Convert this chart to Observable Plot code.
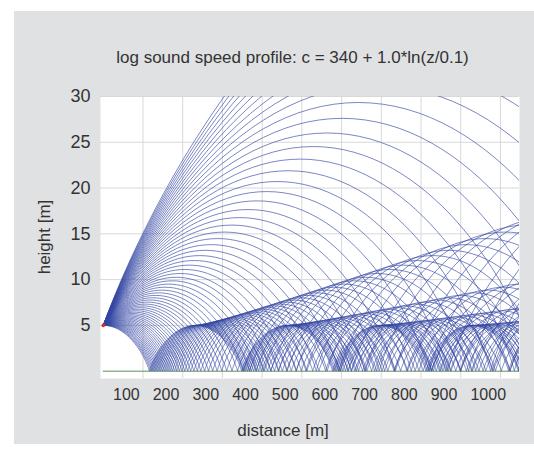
<!DOCTYPE html>
<html><head><meta charset="utf-8">
<script src="https://cdn.jsdelivr.net/npm/d3@7"></script>
<script src="https://cdn.jsdelivr.net/npm/@observablehq/plot@0.6"></script>
<style>
body{margin:0;background:#fff;font-family:"Liberation Sans",Arial,Helvetica,sans-serif;}
#wrap{position:relative;width:534px;height:455px;overflow:hidden}
#panel{position:absolute;left:14px;top:11px;width:520px;height:433px;background:#e0e1e3}
.lbl{position:absolute;color:#333;font-size:17px;white-space:nowrap;line-height:1}
#chart{position:absolute;left:0;top:0}
</style></head><body>
<div id="wrap">
<div id="panel"></div>
<div id="chart"></div>
<div class="lbl" style="left:292.5px;top:57px;transform:translate(-50%,-50%)">log sound speed profile: c = 340 + 1.0*ln(z/0.1)</div>
<div class="lbl" style="left:283px;top:430px;transform:translate(-50%,-50%)">distance [m]</div>
<div class="lbl" style="left:43.5px;top:237px;transform:translate(-50%,-50%) rotate(-90deg)">height [m]</div>
</div>
<script>
// Sound-speed profile parameters (from title): c = 340 + 1.0*ln(z/0.1)
const profileC0 = [340];
const profileSlope = [1.0];
const profileZRef = [0.1];
// Source position [m]
const sourceX = [0];
const sourceZ = [5];
// Launch angles of the rays [degrees above horizontal]
const launchAnglesDeg = [0.0,0.1,0.2,0.3,0.4,0.5,0.6,0.7,0.8,0.9,
  1.0,1.1,1.2,1.3,1.4,1.5,1.6,1.7,1.8,1.9,
  2.0,2.1,2.2,2.3,2.4,2.5,2.6,2.7,2.8,2.9,
  3.0,3.1,3.2,3.3,3.4,3.5,3.6,3.7,3.8,3.9,
  4.0,4.1,4.2,4.3,4.4,4.5,4.6,4.7,4.8,4.9,
  5.0,5.1,5.2,5.3,5.4,5.5,5.6,5.7,5.8,5.9,
  6.0,6.1,6.2,6.3,6.4,6.5,6.6,6.7,6.8];
// Axis ticks
const xTicks = [100,200,300,400,500,600,700,800,900,1000];
const yTicks = [5,10,15,20,25,30];
const xRangeMax = 1048;

const C0 = profileC0[0], A = profileSlope[0], ZR = profileZRef[0];
const cAt = z => C0 + A * Math.log(z / ZR);

// Ray tracing with Snell's law (cos(theta)/c = const), mirror reflection at the ground.
// Substitution s^2 = c_t - c(z) makes the horizontal-distance integral smooth.
const rays = [];
const zs = sourceZ[0], xs0 = sourceX[0], cs = cAt(zs);
const dsStep = 0.04, sMax = 4.6;
launchAnglesDeg.forEach((deg, id) => {
  const th = deg * Math.PI / 180;
  const ct = cs / Math.cos(th);
  const p = 1 / ct;
  const zt = ZR * Math.exp((ct - C0) / A);
  const f = s => zt * (2 / A) * Math.exp(-s * s / A) * (1 - p * s * s) / Math.sqrt(p * (2 - p * s * s));
  const S = [0], D = [0];
  const n = Math.round(sMax / dsStep);
  for (let i = 1; i <= n; i++) {
    const a = (i - 1) * dsStep, b = i * dsStep, m = (a + b) / 2;
    D.push(D[i - 1] + (b - a) / 6 * (f(a) + 4 * f(m) + f(b)));
    S.push(b);
  }
  const s0 = Math.sqrt(Math.max(0, ct - cs));
  let D0 = 0;
  { const k = 200, h = s0 / k; for (let i = 0; i < k; i++) { const a = i * h, b = a + h; D0 += h / 6 * (f(a) + 4 * f((a + b) / 2) + f(b)); } }
  const Dg = D[n];
  const zOf = s => zt * Math.exp(-s * s / A);
  const pts = [];
  pts.push({x: xs0, z: zs, ray: id});
  for (let i = n; i >= 0; i--) if (S[i] < s0) pts.push({x: xs0 + D0 - D[i], z: zOf(S[i]), ray: id});
  let apex = xs0 + D0;
  for (let i = 1; i <= n; i++) pts.push({x: apex + D[i], z: i === n ? 0 : zOf(S[i]), ray: id});
  let base = apex + Dg;
  while (base < xRangeMax + 5) {
    for (let i = n - 1; i >= 0; i--) pts.push({x: base + Dg - D[i], z: zOf(S[i]), ray: id});
    apex = base + Dg;
    for (let i = 1; i <= n; i++) pts.push({x: apex + D[i], z: i === n ? 0 : zOf(S[i]), ray: id});
    base = apex + Dg;
  }
  rays.push(...pts);
});

const chart = Plot.plot({
  width: 534, height: 455,
  marginLeft: 100, marginRight: 15, marginTop: 96, marginBottom: 77,
  style: {background: "transparent", fontFamily: '"Liberation Sans", Arial, Helvetica, sans-serif', fontSize: "16px", color: "#333"},
  x: {domain: [-7, xRangeMax]},
  y: {domain: [-0.8, 30]},
  marks: [
    Plot.frame({fill: "white", stroke: "none"}),
    Plot.gridX(xTicks, {stroke: "#d8d8d8", strokeOpacity: 1, strokeWidth: 1}),
    Plot.gridY(yTicks, {stroke: "#d8d8d8", strokeOpacity: 1, strokeWidth: 1}),
    Plot.line(rays, {x: "x", y: "z", z: "ray", stroke: "#3346a2", strokeWidth: 0.65, clip: true}),
    Plot.ruleY([0], {x1: sourceX[0], x2: xRangeMax, stroke: "#5e8f5e", strokeWidth: 1}),
    Plot.dot(sourceX.map((x, i) => ({x, z: sourceZ[i]})), {x: "x", y: "z", r: 1.8, fill: "#e8251f", stroke: "none"}),
    Plot.axisX(xTicks, {tickSize: 0, tickPadding: 10, tickFormat: "d", textAnchor: "start", dx: -30, fontSize: 16, fill: "#333", label: null}),
    Plot.axisY(yTicks, {tickSize: 0, tickPadding: 10, tickFormat: "d", fontSize: 18, fill: "#333", label: null})
  ]
});
document.getElementById("chart").appendChild(chart);
</script>
</body></html>
